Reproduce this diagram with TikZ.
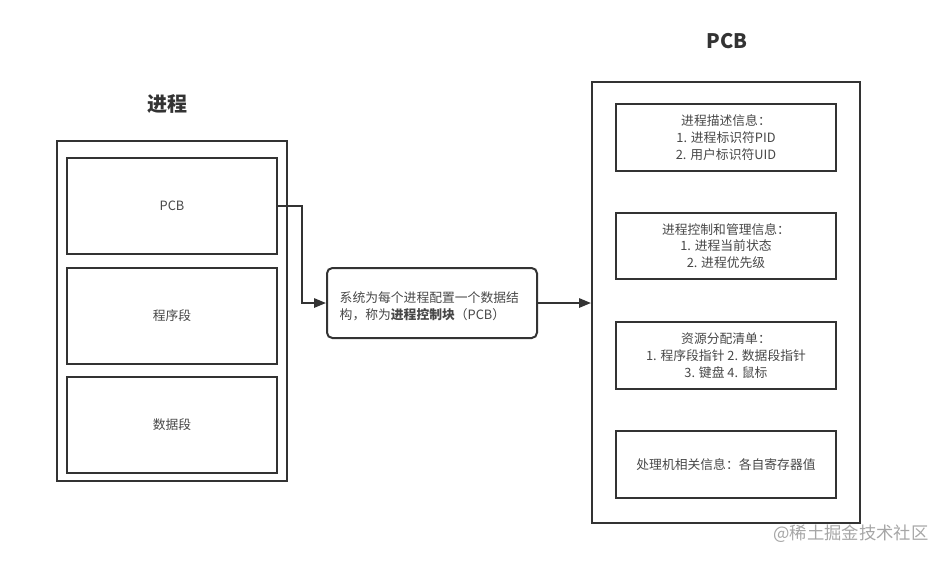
\documentclass[tikz,border=0pt]{standalone}
\usepackage{fontspec}
\setmainfont{Noto Sans CJK SC}
\usetikzlibrary{arrows.meta}
\definecolor{ln}{HTML}{333333}
\tikzset{
  box/.style={draw=ln, line width=1.5pt, inner sep=0pt},
  lbl/.style={font=\fontsize{9.6pt}{12.6pt}\selectfont, text=ln!90, align=center},
  ttl/.style={font=\fontsize{15pt}{18pt}\selectfont\bfseries, text=ln},
  conn/.style={draw=ln, line width=1.5pt, -{Triangle[length=9pt,width=7pt]}},
}
\begin{document}
\begin{tikzpicture}[x=0.75pt,y=-0.75pt]
\useasboundingbox (0,0) rectangle (949,562);
% left
\node[ttl] (t1) at (167,104) {进程};
\draw[box] (57,141) rectangle (287,481);
\node[box, minimum width=210*0.75pt, minimum height=96*0.75pt] (pcb) at (172,206) {};
\node[lbl] at (pcb) {PCB};
\node[box, minimum width=210*0.75pt, minimum height=96*0.75pt] (cxd) at (172,316) {};
\node[lbl] at (cxd) {程序段};
\node[box, minimum width=210*0.75pt, minimum height=96*0.75pt] (sjd) at (172,425) {};
\node[lbl] at (sjd) {数据段};
% middle
\node[box, rounded corners=4pt, minimum width=210*0.75pt, minimum height=70*0.75pt] (mid) at (432,303) {};
\node[lbl, align=left, anchor=west] at (335,306) {系统为每个进程配置一个数据结\\构，称为\textbf{进程控制块}（PCB）};
% right
\node[ttl] (t2) at (727,41) {PCB};
\node[box, minimum width=268*0.75pt, minimum height=441*0.75pt] (right) at (726,302.5) {};
\node[box, minimum width=220*0.75pt, minimum height=67*0.75pt] (b1) at (726,137.5) {};
\node[lbl] at (b1) {进程描述信息：\\1. 进程标识符PID\\2. 用户标识符UID};
\node[box, minimum width=220*0.75pt, minimum height=66*0.75pt] (b2) at (726,246) {};
\node[lbl] at (b2) {进程控制和管理信息：\\1. 进程当前状态\\2. 进程优先级};
\node[box, minimum width=220*0.75pt, minimum height=67*0.75pt] (b3) at (726,355.5) {};
\node[lbl] at (b3) {资源分配清单：\\1. 程序段指针 2. 数据段指针\\3. 键盘 4. 鼠标};
\node[box, minimum width=220*0.75pt, minimum height=67*0.75pt] (b4) at (726,464.5) {};
\node[lbl] at (b4) {处理机相关信息：各自寄存器值};
% connectors
\coordinate (bend) at (302,206);
\draw[conn] (pcb.east) -- (bend) |- (mid.west);
\draw[conn] (mid.east) -- (mid.east -| right.west);
% watermark
\node[font=\fontsize{13pt}{15pt}\selectfont, text=gray!70] (wm) at (851,534) {@稀土掘金技术社区};
\end{tikzpicture}
\end{document}
